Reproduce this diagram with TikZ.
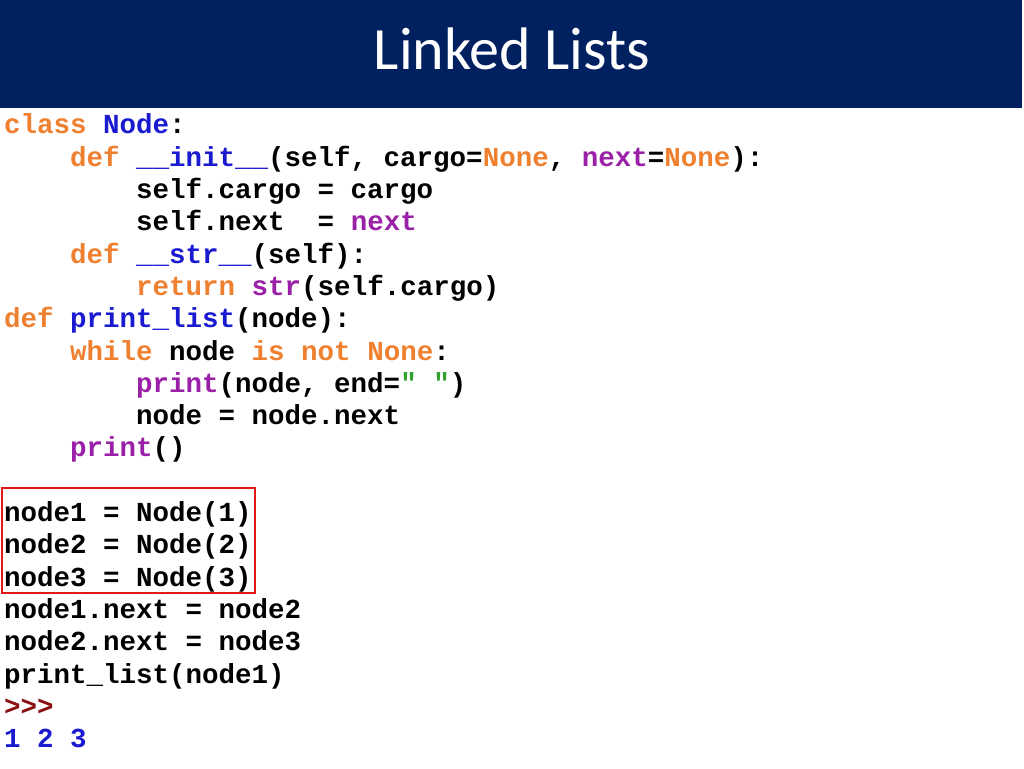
\documentclass[tikz,border=0pt]{standalone}
\usepackage{fontspec}
\setmainfont{Carlito}
\newfontfamily\codefont{Liberation Mono}[BoldFont={* Bold}]
\definecolor{navy}{HTML}{002060}
\definecolor{kw}{HTML}{EE8030}
\definecolor{nm}{HTML}{1A1AD0}
\definecolor{bi}{HTML}{9A20A8}
\definecolor{st}{HTML}{30A030}
\definecolor{pr}{HTML}{8A1010}
\definecolor{bx}{HTML}{E01818}
\newcommand{\K}[1]{\textcolor{kw}{#1}}
\newcommand{\N}[1]{\textcolor{nm}{#1}}
\newcommand{\B}[1]{\textcolor{bi}{#1}}
\newcommand{\G}[1]{\textcolor{st}{#1}}
\newcommand{\U}{\_}
\begin{document}
\begin{tikzpicture}[x=1pt,y=1pt,
  code/.style={anchor=base west,inner sep=0pt,font=\codefont\bfseries\fontsize{27.5}{30}\selectfont,text=black}]
\useasboundingbox (0,0) rectangle (1024,768);
\fill[white] (0,0) rectangle (1024,768);
\fill[navy] (0,660) rectangle (1022,768);
\node[text=white,font=\fontsize{60}{70}\selectfont] (title) at (512,719) {Linked Lists};
\def\ly#1{634-32.3*#1}
\node[code] (l0) at (4,{\ly{0}}) {\K{class}~\N{Node}:};
\node[code] (l1) at (4,{\ly{1}}) {~~~~\K{def}~\N{\U\U init\U\U}(self,~cargo=\K{None},~\B{next}=\K{None}):};
\node[code] (l2) at (4,{\ly{2}}) {~~~~~~~~self.cargo~=~cargo};
\node[code] (l3) at (4,{\ly{3}}) {~~~~~~~~self.next~~=~\B{next}};
\node[code] (l4) at (4,{\ly{4}}) {~~~~\K{def}~\N{\U\U str\U\U}(self):};
\node[code] (l5) at (4,{\ly{5}}) {~~~~~~~~\K{return}~\B{str}(self.cargo)};
\node[code] (l6) at (4,{\ly{6}}) {\K{def}~\N{print\U list}(node):};
\node[code] (l7) at (4,{\ly{7}}) {~~~~\K{while}~node~\K{is}~\K{not}~\K{None}:};
\node[code] (l8) at (4,{\ly{8}}) {~~~~~~~~\B{print}(node,~end=\G{"~"})};
\node[code] (l9) at (4,{\ly{9}}) {~~~~~~~~node~=~node.next};
\node[code] (l10) at (4,{\ly{10}}) {~~~~\B{print}()};
\node[code] (l12) at (4,{\ly{12}}) {node1~=~Node(1)};
\node[code] (l13) at (4,{\ly{13}}) {node2~=~Node(2)};
\node[code] (l14) at (4,{\ly{14}}) {node3~=~Node(3)};
\node[code] (l15) at (4,{\ly{15}}) {node1.next~=~node2};
\node[code] (l16) at (4,{\ly{16}}) {node2.next~=~node3};
\node[code] (l17) at (4,{\ly{17}}) {print\U list(node1)};
\node[code,text=pr] (l18) at (4,{\ly{18}}) {>{}>{}>};
\node[code,text=nm] (l19) at (4,{\ly{19}}) {1~2~3};
\draw[bx,line width=2.5pt] (2,280) rectangle (255,175);
\end{tikzpicture}
\end{document}
